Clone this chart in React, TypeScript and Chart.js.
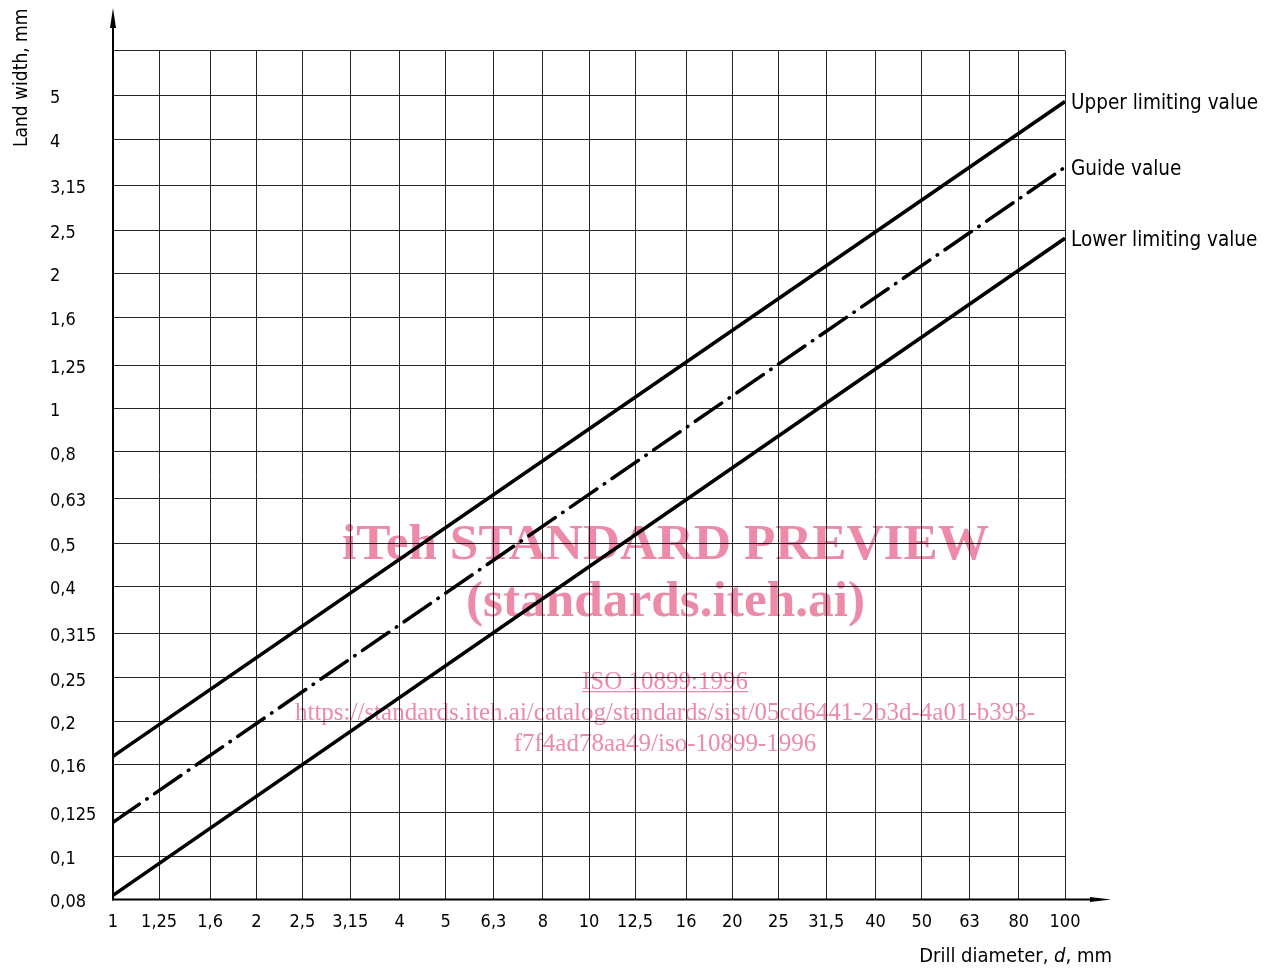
import { useEffect, useRef } from 'react';
import { Chart, registerables } from 'chart.js';

Chart.register(...registerables);

// Preferred-number (R10) grid on both axes
const X_TICKS = [1, 1.25, 1.6, 2, 2.5, 3.15, 4, 5, 6.3, 8, 10, 12.5, 16, 20, 25, 31.5, 40, 50, 63, 80, 100];
const X_TICK_LABELS = ['1', '1,25', '1,6', '2', '2,5', '3,15', '4', '5', '6,3', '8', '10', '12,5', '16', '20', '25', '31,5', '40', '50', '63', '80', '100'];
const Y_TICKS = [0.08, 0.1, 0.125, 0.16, 0.2, 0.25, 0.315, 0.4, 0.5, 0.63, 0.8, 1, 1.25, 1.6, 2, 2.5, 3.15, 4, 5, 6.3];
const Y_TICK_LABELS = ['0,08', '0,1', '0,125', '0,16', '0,2', '0,25', '0,315', '0,4', '0,5', '0,63', '0,8', '1', '1,25', '1,6', '2', '2,5', '3,15', '4', '5', ''];

// Drill diameter d (mm) and land width (mm)
const DIAMETERS = [1, 10, 100];
const UPPER = [0.167, 0.9, 4.85];
const GUIDE = [0.119, 0.643, 3.46];
const LOWER = [0.0817, 0.443, 2.4];
const SERIES_NAMES = ['Upper limiting value', 'Guide value', 'Lower limiting value'];

const X_TITLE_PARTS = ['Drill diameter, ', 'd', ', mm'];
const Y_TITLE = 'Land width, mm';

const WM_LINES_BOLD = ['iTeh STANDARD PREVIEW', '(standards.iteh.ai)'];
const WM_DOC = 'ISO 10899:1996';
const WM_URL = ['https://standards.iteh.ai/catalog/standards/sist/05cd6441-2b3d-4a01-b393-', 'f7f4ad78aa49/iso-10899-1996'];

const FONT = "'DejaVu Sans Condensed', 'DejaVu Sans', sans-serif";
const SERIF = "'Liberation Serif', 'Times New Roman', serif";
const PINK = '#ec8aa8';

const decorations = {
  id: 'decorations',
  beforeDraw(chart: any) {
    const ctx = chart.ctx as CanvasRenderingContext2D;
    ctx.save();
    ctx.fillStyle = '#ffffff';
    ctx.fillRect(0, 0, chart.width, chart.height);

    // preview stamp behind the grid
    ctx.fillStyle = PINK;
    ctx.textAlign = 'center';
    ctx.textBaseline = 'alphabetic';
    ctx.font = `bold 51.3px ${SERIF}`;
    ctx.fillText(WM_LINES_BOLD[0], 665.5, 559);
    ctx.fillText(WM_LINES_BOLD[1], 665.5, 616);
    ctx.font = `25px ${SERIF}`;
    ctx.fillText(WM_DOC, 665, 689);
    const w = ctx.measureText(WM_DOC).width;
    ctx.fillRect(665 - w / 2, 691, w, 1.3);
    ctx.fillText(WM_URL[0], 665, 720);
    ctx.fillText(WM_URL[1], 665, 751);
    ctx.restore();
  },
  afterDatasetsDraw(chart: any) {
    const ctx = chart.ctx as CanvasRenderingContext2D;
    const { left, bottom } = chart.chartArea;
    ctx.save();
    ctx.strokeStyle = '#000';
    ctx.fillStyle = '#000';

    // y axis with arrow
    ctx.lineWidth = 2;
    ctx.beginPath();
    ctx.moveTo(left, bottom + 1);
    ctx.lineTo(left, 22);
    ctx.stroke();
    ctx.beginPath();
    ctx.moveTo(left, 8);
    ctx.lineTo(left - 3, 28);
    ctx.lineTo(left + 3, 28);
    ctx.closePath();
    ctx.fill();

    // x axis with arrow
    ctx.beginPath();
    ctx.moveTo(left - 1, bottom);
    ctx.lineTo(1095, bottom);
    ctx.stroke();
    ctx.beginPath();
    ctx.moveTo(1111, bottom);
    ctx.lineTo(1090, bottom - 2.5);
    ctx.lineTo(1090, bottom + 2.5);
    ctx.closePath();
    ctx.fill();

    // series names at the line ends
    ctx.font = `20.5px ${FONT}`;
    ctx.textAlign = 'left';
    ctx.textBaseline = 'alphabetic';
    chart.data.datasets.forEach((ds: any, i: number) => {
      const meta = chart.getDatasetMeta(i);
      const pt = meta.data[meta.data.length - 1];
      ctx.fillText(ds.label, pt.x + 6, pt.y + 7.5);
    });

    // x title, right aligned, with italic symbol
    const normal = `20px ${FONT}`;
    const italic = `italic 20px ${FONT}`;
    const fonts = [normal, italic, normal];
    let total = 0;
    const widths = X_TITLE_PARTS.map((p, i) => {
      ctx.font = fonts[i];
      const m = ctx.measureText(p).width;
      total += m;
      return m;
    });
    let x = 1112 - total;
    X_TITLE_PARTS.forEach((p, i) => {
      ctx.font = fonts[i];
      ctx.fillText(p, x, 962);
      x += widths[i];
    });

    // y title, rotated
    ctx.translate(27, 147);
    ctx.rotate(-Math.PI / 2);
    ctx.font = `19px ${FONT}`;
    ctx.fillText(Y_TITLE, 0, 0);
    ctx.restore();
  },
};

export default function App() {
  const canvasRef = useRef<HTMLCanvasElement | null>(null);

  useEffect(() => {
    if (!canvasRef.current) return;
    const lineBase = {
      borderColor: '#000',
      borderWidth: 3.5,
      pointRadius: 0,
      tension: 0,
      fill: false,
    };
    const chart = new Chart(canvasRef.current, {
      type: 'line',
      data: {
        datasets: [
          { ...lineBase, label: SERIES_NAMES[0], data: DIAMETERS.map((d, i) => ({ x: d, y: UPPER[i] })) },
          {
            ...lineBase,
            label: SERIES_NAMES[1],
            data: DIAMETERS.map((d, i) => ({ x: d, y: GUIDE[i] })),
            borderDash: [32, 9, 0.5, 9],
            borderCapStyle: 'round',
          },
          { ...lineBase, label: SERIES_NAMES[2], data: DIAMETERS.map((d, i) => ({ x: d, y: LOWER[i] })) },
        ],
      },
      options: {
        responsive: false,
        animation: false,
        layout: { padding: { left: 50, right: 205, top: 50.7, bottom: 0 } },
        plugins: { legend: { display: false }, tooltip: { enabled: false } },
        scales: {
          x: {
            type: 'logarithmic',
            min: 1,
            max: 100,
            border: { display: false },
            grid: { color: 'rgba(0,0,0,0.85)', lineWidth: 1, drawTicks: false },
            afterBuildTicks: (scale: any) => {
              scale.ticks = X_TICKS.map((v) => ({ value: v }));
            },
            afterFit: (scale: any) => {
              scale.height = 69.5;
            },
            ticks: {
              autoSkip: false,
              maxRotation: 0,
              padding: 12.5,
              color: '#000',
              font: { family: FONT, size: 18 },
              callback: (_v: any, i: number) => X_TICK_LABELS[i],
            },
          },
          y: {
            type: 'logarithmic',
            min: 0.08,
            max: 6.3,
            border: { display: false },
            grid: { color: 'rgba(0,0,0,0.85)', lineWidth: 1, drawTicks: false },
            afterBuildTicks: (scale: any) => {
              scale.ticks = Y_TICKS.map((v) => ({ value: v }));
            },
            afterFit: (scale: any) => {
              scale.width = 63;
            },
            ticks: {
              autoSkip: false,
              crossAlign: 'far',
              labelOffset: 3,
              color: '#000',
              font: { family: FONT, size: 18 },
              callback: (_v: any, i: number) => Y_TICK_LABELS[i],
            },
          },
        },
      },
      plugins: [decorations],
    } as any);
    return () => chart.destroy();
  }, []);

  return (
    <div style={{ position: 'absolute', left: 0, top: 0, width: 1270, height: 969, background: '#fff' }}>
      <canvas ref={canvasRef} width={1270} height={969} style={{ display: 'block' }} />
    </div>
  );
}
